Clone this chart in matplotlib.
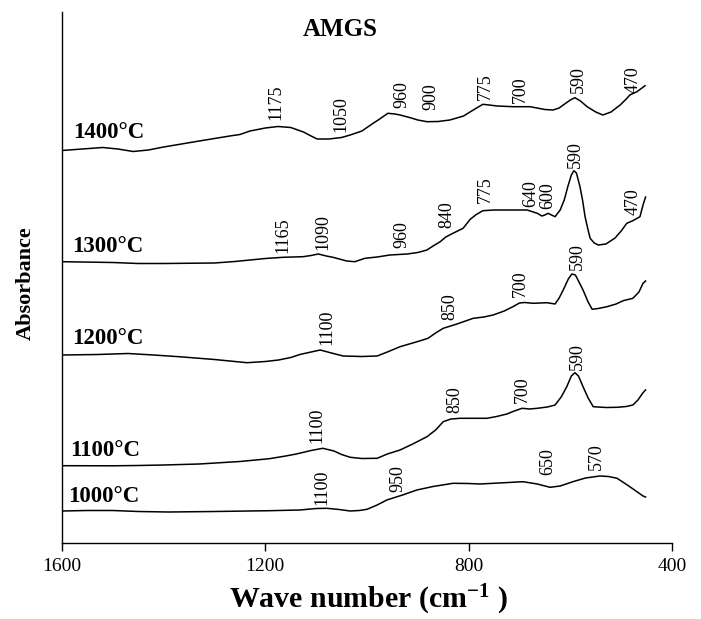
import matplotlib
matplotlib.use("Agg")
import matplotlib.pyplot as plt

plt.rcParams["mathtext.fontset"] = "custom"
plt.rcParams["mathtext.rm"] = "Liberation Serif"
plt.rcParams["mathtext.bf"] = "Liberation Serif:bold"
plt.rcParams["mathtext.it"] = "Liberation Serif:italic"

# ---------------- data (wave number, offset absorbance in arbitrary units) -------------
wn_1400 = [1600, 1560, 1520, 1490, 1460, 1430, 1400, 1365, 1330, 1300, 1270, 1250, 1230, 1200,
           1175, 1150, 1125, 1110, 1098, 1075, 1050, 1033, 1010, 990, 975, 959, 945, 935, 915,
           900, 882, 860, 837, 810, 791, 772, 760, 744, 713, 679, 650, 634, 622, 614, 600, 591,
           580, 567, 550, 536, 520, 502, 490, 483, 469, 453]
ab_1400 = [392.5, 394, 395.5, 394, 391.5, 393, 396, 399, 402, 404.5, 407, 408.5, 412, 415,
           416.5, 415.5, 411, 407, 404, 404, 405.5, 408, 412, 419, 424, 429.7, 429, 428, 425.3,
           423, 421.3, 421.5, 423, 427, 433, 438.7, 438, 437, 436.3, 436.3, 433.5, 433, 435, 438, 443, 445.3,
           442, 436.3, 431, 428, 431, 438, 444, 448, 451.3, 457.3]

wn_1300 = [1600, 1500, 1450, 1400, 1300, 1260, 1230, 1200, 1165, 1126, 1110, 1096, 1080, 1067,
           1040, 1024, 1004, 980, 955, 921, 900, 882, 870, 856, 845, 831, 811, 797, 785, 772,
           750, 719, 685, 665, 656, 650, 644, 637, 630, 620, 612, 605, 598, 593,
           588, 581, 576, 571, 566, 561, 553, 545, 530, 512, 500, 489, 477, 463, 457, 452]
ab_1300 = [281.3, 280.5, 279.5, 279.5, 280, 281.5, 283, 284.5, 285.7, 286.3, 287.5, 289, 287, 285.7,
           282, 281.3, 284.7, 286, 288, 289, 290.5, 293, 297, 301.3, 306, 309.7, 314.7, 323.7, 328.5, 332.3,
           333, 333, 333, 329.7, 327, 328, 329.7, 328, 326.3, 333, 343, 356.3, 368, 372.3,
           370, 356.3, 343, 326.3, 315, 304.7, 300, 298, 299, 305, 312, 319.7, 322.3, 326.3, 338, 346]

wn_1200 = [1600, 1530, 1470, 1420, 1370, 1300, 1236, 1200, 1174, 1150, 1132, 1110, 1092, 1070,
           1047, 1010, 980, 960, 935, 900, 880, 865, 850, 823, 791, 770, 752, 730, 713, 700,
           690, 673, 660, 646, 630, 622, 614, 604, 597, 590, 585, 575, 565, 557, 545, 528,
           510, 496, 477, 465, 457, 452]
ab_1200 = [188, 188.5, 189.5, 188, 186.3, 183.5, 180.3, 181.5, 183, 185.5, 188.5, 191, 193, 190,
           187, 186.5, 187, 191, 196.3, 201.5, 204.7, 210, 214.7, 219, 224.7, 226, 228, 232, 236.3, 240,
           240.5, 239.7, 240, 240.3, 239, 245, 253, 264, 269, 268, 263, 253, 241, 233.7, 234.5, 236.3,
           239, 242.3, 244.7, 251, 259.7, 262]

wn_1100 = [1600, 1500, 1450, 1400, 1330, 1250, 1192, 1160, 1139, 1110, 1087, 1065, 1050, 1033,
           1010, 980, 960, 935, 910, 882, 865, 850, 835, 817, 790, 764, 745, 725, 710, 695,
           680, 665, 645, 630, 618, 607, 598, 591, 584, 575, 565, 555, 530, 508, 490, 477,
           467, 457, 452]
ab_1100 = [77.3, 77.2, 77.5, 78, 79, 81.5, 84.3, 87, 89, 92.5, 94.7, 92, 88.5, 85.7,
           84.5, 84.7, 89, 93, 99, 106.3, 113, 121.3, 124, 124.7, 124.7, 124.7, 126.5, 129, 132, 134.7,
           134, 134.7, 136, 138, 146, 156.3, 167, 170.3, 167, 156.3, 145, 136.3, 135.5, 135.7, 136.5, 138,
           143, 150.3, 153]

wn_1000 = [1600, 1550, 1500, 1450, 1390, 1300, 1192, 1132, 1100, 1079, 1055, 1033, 1015, 1000,
           980, 961, 930, 902, 870, 831, 800, 778, 740, 693, 665, 640, 620, 595, 570, 542,
           525, 508, 485, 457, 452]
ab_1000 = [32, 32.5, 32.5, 31.5, 31, 31.5, 32.3, 33, 34.5, 34.7, 33.5, 32, 32.5, 33.7,
           38, 43, 48, 53, 56.5, 59.7, 59.5, 59, 60, 61.3, 59, 55.7, 57, 61.3, 65, 67,
           66.5, 64.7, 57, 47, 46]

temperatures = ["1400°C", "1300°C", "1200°C", "1100°C", "1000°C"]
temp_label_x = [1578, 1580, 1580, 1584, 1588]
temp_label_y = [410, 297, 204, 93, 46]

# peak annotations: (text, x position in cm-1, y of text start)
peaks_1400 = [("1175", 1179, 423), ("1050", 1051, 411), ("960", 931, 435), ("900", 874, 433),
              ("775", 768, 443), ("700", 699, 440), ("590", 585, 450), ("470", 477, 450)]
peaks_1300 = [("1165", 1165, 290), ("1090", 1087, 293), ("960", 931, 295), ("840", 843, 315),
              ("775", 768, 340), ("640", 677, 336), ("600", 644, 334), ("590", 591, 375),
              ("470", 477, 328)]
peaks_1200 = [("1100", 1079, 198), ("850", 837, 223), ("700", 699, 246), ("590", 587, 273)]
peaks_1100 = [("1100", 1098, 100), ("850", 827, 130), ("700", 695, 140), ("590", 587, 173)]
peaks_1000 = [("1100", 1089, 38), ("950", 939, 51), ("650", 644, 68), ("570", 548, 73)]

xticks = [1600, 1200, 800, 400]

# ---------------- figure -------------
W, H = 701, 619
fig = plt.figure(figsize=(W / 100, H / 100), dpi=100)
ax = fig.add_axes([62 / W, (H - 543) / H, (672 - 62) / W, (543 - 12) / H])

serif = ["Liberation Serif", "DejaVu Serif"]

series = [(wn_1400, ab_1400), (wn_1300, ab_1300), (wn_1200, ab_1200),
          (wn_1100, ab_1100), (wn_1000, ab_1000)]
for wn, ab in series:
    ax.plot(wn, ab, color="black", lw=1.1, solid_joinstyle="round")

for t, x, y in zip(temperatures, temp_label_x, temp_label_y):
    ax.text(x, y, t, ha="left", va="center", fontsize=16.5, fontweight="bold", family=serif)

for peaks in [peaks_1400, peaks_1300, peaks_1200, peaks_1100, peaks_1000]:
    for txt, x, y in peaks:
        ax.text(x, y, txt, rotation=90, ha="center", va="bottom", fontsize=13, family=serif)

ax.text(1053, 514, "AMGS", ha="center", va="center", fontsize=18, fontweight="bold", family=serif)

ax.set_xlim(1600, 400)
ax.set_ylim(0, 531)
ax.set_xticks(xticks)
ax.set_xticklabels([str(t) for t in xticks], fontsize=14, family=serif)
ax.set_yticks([])
ax.tick_params(axis="x", direction="out", length=6, width=1.0, pad=5)
for s in ["top", "right"]:
    ax.spines[s].set_visible(False)
for s in ["left", "bottom"]:
    ax.spines[s].set_linewidth(1.0)

fig.text(368 / W, 1 - 600 / H, "Wave number (cm$^{\\mathbf{-1}}$ )", ha="center", va="center",
         fontsize=21.5, fontweight="bold", family=serif)
fig.text(26 / W, 1 - 283 / H, "Absorbance", ha="center", va="center", rotation=90,
         fontsize=16, fontweight="bold", family=serif)

fig.savefig("out.png", dpi=100)
